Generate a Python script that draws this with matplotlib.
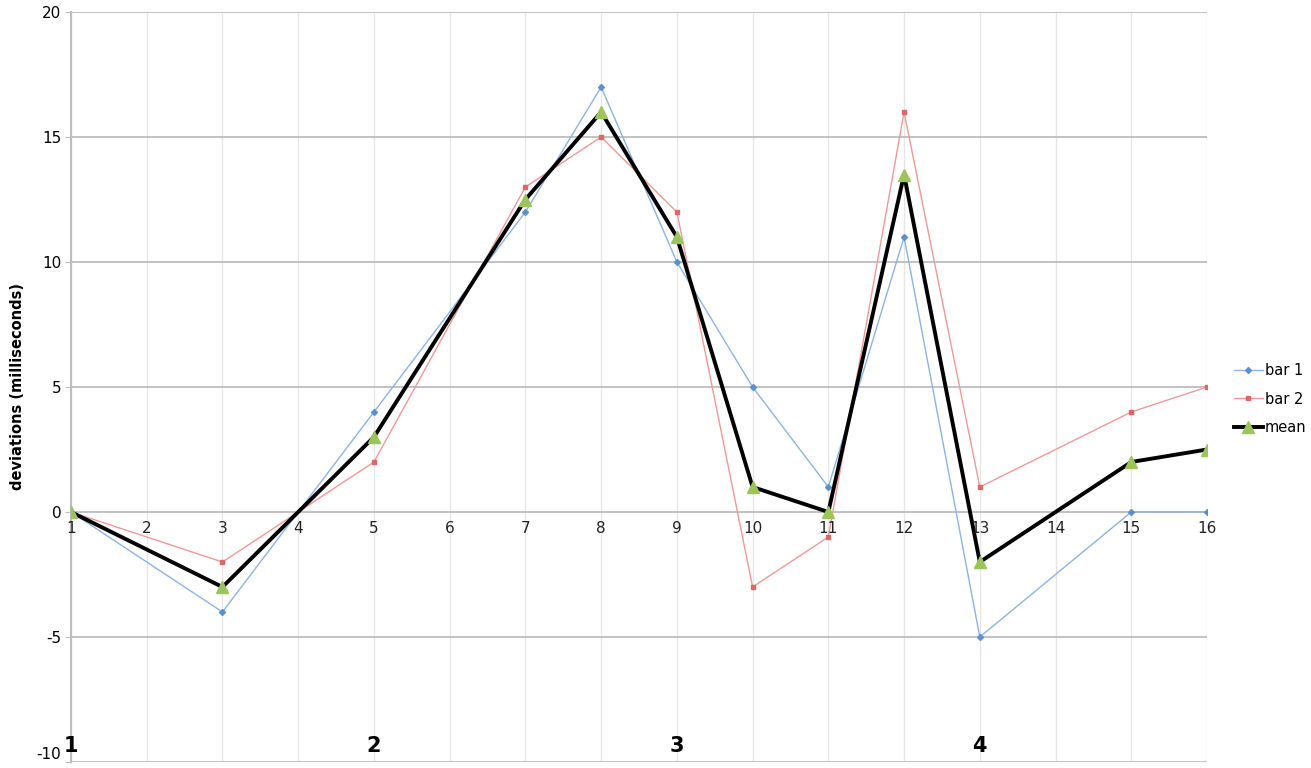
import numpy as np
import matplotlib
matplotlib.use("Agg")
import matplotlib.pyplot as plt

plt.rcParams["axes.unicode_minus"] = False

# categories with data (2, 4, 6, 14 are empty and get bridged)
positions = [1, 3, 5, 7, 8, 9, 10, 11, 12, 13, 15, 16]
bar1 = [0, -4, 4, 12, 17, 10, 5, 1, 11, -5, 0, 0]
bar2 = [0, -2, 2, 13, 15, 12, -3, -1, 16, 1, 4, 5]
mean = [0, -3, 3, 12.5, 16, 11, 1, 0, 13.5, -2, 2, 2.5]
categories = list(range(1, 17))
group_labels = ["1", "2", "3", "4"]
group_pos = [1, 5, 9, 13]

fig = plt.figure(figsize=(13.11, 7.68), dpi=100)
ax = fig.add_axes([71 / 1311, 1 - 762 / 768, (1207 - 71) / 1311, 750 / 768])

ax.set_xlim(1, 16)
ax.set_ylim(-10, 20)

# grid
for c in categories:
    ax.axvline(c, color="#e6e6e6", lw=1, zorder=0)
for v in range(-10, 21, 5):
    ax.axhline(v, color="#bdbdbd", lw=1.3, zorder=0.5)

ax.plot(positions, bar1, color="#8db3e2", lw=1, marker="D", ms=3,
        mfc="#5b8fd0", mec="#5b8fd0", label="bar 1", zorder=2)
ax.plot(positions, bar2, color="#ec9a98", lw=1, marker="s", ms=3.5,
        mfc="#e06666", mec="#e06666", label="bar 2", zorder=2)
ax.plot(positions, mean, color="black", lw=2.8, marker="^", ms=8,
        mfc="#9bc45a", mec="#9bc45a", label="mean", zorder=3)

for s in ["top", "right", "bottom"]:
    ax.spines[s].set_visible(False)
ax.spines["left"].set_color("#bdbdbd")
ax.spines["left"].set_linewidth(1.5)

ax.set_yticks(range(-10, 21, 5))
ax.tick_params(axis="y", length=4, color="#bdbdbd", labelsize=11, pad=3)
ax.set_xticks([])
# keep the bottom label inside the picture
ax.get_yticklabels()[0].set_va("bottom")

# category labels sit just under the zero line
for c in categories:
    ax.text(c, -0.35, str(c), ha="center", va="top", fontsize=11, color="#222222")

for lab, p in zip(group_labels, group_pos):
    ax.text(p, -9.35, lab, ha="center", va="center", fontsize=15,
            fontweight="bold", color="black")

ax.set_ylabel("deviations (milliseconds)", fontsize=10.5, fontweight="bold", labelpad=8)

leg = ax.legend(loc="center left", bbox_to_anchor=(1.012, 0.484), frameon=False,
                fontsize=10.5, handlelength=2.0, handletextpad=0.15, labelspacing=0.9)

fig.savefig("out.png", dpi=100)
